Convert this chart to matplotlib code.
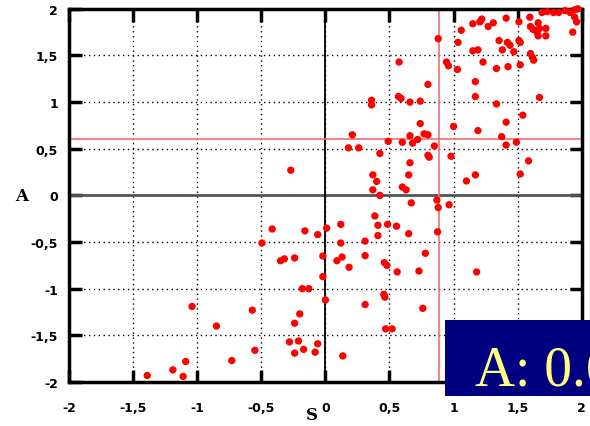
import numpy as np
import matplotlib
matplotlib.use("Agg")
import matplotlib.pyplot as plt
from matplotlib.patches import Rectangle

# scatter points (S, A)
s_left = [-0.27, -0.415, -0.16, -0.06, 0.01, -0.495, -0.35, -0.32, -0.24, -0.02,
          -0.02, -0.18, -0.13, 0.0, -1.04, -0.57, -0.2, -0.24, -0.85, -0.28,
          -0.21, -0.06, -0.55, -0.17, -0.24, -0.08, -0.73, -1.09, -1.19, -1.39, -1.11]
a_left = [0.27, -0.36, -0.38, -0.42, -0.35, -0.51, -0.70, -0.68, -0.67, -0.65,
          -0.87, -1.0, -1.0, -1.12, -1.19, -1.23, -1.27, -1.37, -1.40, -1.57,
          -1.56, -1.59, -1.66, -1.65, -1.69, -1.68, -1.77, -1.78, -1.87, -1.93, -1.94]

s_mid = [0.88, 0.945, 0.96, 0.575, 0.80, 0.36, 0.36, 0.57, 0.59, 0.66, 0.74, 0.74,
         0.21, 0.18, 0.26, 0.49, 0.60, 0.66, 0.68, 0.72, 0.77, 0.80, 0.85, 0.425,
         0.80, 0.81, 0.66, 0.65, 0.37, 0.40, 0.37, 0.60, 0.63, 0.425, 0.87, 0.88,
         0.965, 0.67, 0.386, 0.12, 0.41, 0.485, 0.555, 0.41, 0.65, 0.875, 0.12,
         0.31, 0.78, 0.13, 0.31, 0.09, 0.185, 0.46, 0.48, 0.56, 0.73, 0.31, 0.456,
         0.464, 0.76, 0.47, 0.52, 0.136]
a_mid = [1.68, 1.43, 1.39, 1.43, 1.19, 1.02, 0.97, 1.06, 1.04, 1.0, 1.01, 0.77,
         0.65, 0.51, 0.51, 0.58, 0.57, 0.64, 0.56, 0.60, 0.66, 0.65, 0.53, 0.45,
         0.43, 0.41, 0.35, 0.22, 0.22, 0.15, 0.06, 0.09, 0.06, 0.0, -0.05, -0.13,
         -0.10, -0.08, -0.22, -0.31, -0.32, -0.31, -0.33, -0.43, -0.41, -0.39, -0.51,
         -0.49, -0.62, -0.66, -0.645, -0.70, -0.77, -0.72, -0.75, -0.82, -0.81, -1.17, -1.06,
         -1.09, -1.21, -1.43, -1.43, -1.72]

s_right = [1.06, 1.15, 1.205, 1.22, 1.27, 1.31, 1.41, 1.51, 1.035, 1.15, 1.19, 1.355,
           1.38, 1.42, 1.44, 1.47, 1.51, 1.52, 1.23, 1.03, 1.335, 1.425, 1.52, 1.595,
           1.60, 1.62, 1.66, 1.67, 1.65, 1.66, 1.72, 1.72, 1.69, 1.73, 1.78, 1.82,
           1.87, 1.91, 1.945, 1.97, 1.945, 1.96, 1.93, 1.60, 1.615, 1.625, 1.67, 1.17,
           1.17, 1.335, 1.54, 1.41, 1.19, 1.375, 1.41, 1.49, 1.00, 1.585, 0.98, 1.17,
           1.10, 1.52, 1.18]
a_right = [1.77, 1.84, 1.86, 1.89, 1.81, 1.85, 1.90, 1.86, 1.64, 1.55, 1.56, 1.66,
           1.56, 1.64, 1.61, 1.54, 1.66, 1.64, 1.43, 1.35, 1.36, 1.38, 1.40, 1.91,
           1.81, 1.78, 1.85, 1.79, 1.75, 1.71, 1.79, 1.71, 1.96, 1.97, 1.96, 1.96,
           1.98, 1.96, 1.99, 2.0, 1.91, 1.86, 1.75, 1.52, 1.48, 1.45, 1.05, 1.22,
           1.06, 0.98, 0.86, 0.785, 0.695, 0.63, 0.54, 0.57, 0.74, 0.37, 0.42, 0.22,
           0.155, 0.23, -0.82]

s_vals = np.array(s_left + s_mid + s_right)
a_vals = np.array(a_left + a_mid + a_right)

s_thresh = 0.89
a_thresh = 0.61
ticks = [-2, -1.5, -1, -0.5, 0, 0.5, 1, 1.5, 2]
tick_labels = ["-2", "-1,5", "-1", "-0,5", "0", "0,5", "1", "1,5", "2"]

fig = plt.figure(figsize=(5.9, 4.27), dpi=100)
ax = fig.add_axes([0.117, 0.103, 0.869, 0.874])

ax.set_xlim(-2, 2)
ax.set_ylim(-2, 2)
ax.set_xticks(ticks)
ax.set_yticks(ticks)
ax.set_xticklabels(tick_labels, fontweight="bold", fontsize=9)
ax.set_yticklabels(tick_labels, fontweight="bold", fontsize=9)
ax.tick_params(direction="in", length=9, width=2.5, top=True, right=True)
ax.tick_params(axis="x", pad=14)
ax.tick_params(axis="y", pad=8)

ax.grid(True, color="black", linestyle=(0, (1, 2.5)), linewidth=1)
for sp in ax.spines.values():
    sp.set_linewidth(2.5)

ax.axhline(0, color="#555555", linewidth=2, zorder=2)
ax.axvline(0, color="black", linewidth=1.3, zorder=2)
ax.axhline(a_thresh, color="#f07070", linewidth=1.2, zorder=2)
ax.axvline(s_thresh, color="#f07070", linewidth=1.2, zorder=2)

ax.scatter(s_vals, a_vals, s=28, color="#ff0000", edgecolors="none", zorder=3, clip_on=False)

ax.set_xlabel("S", family="DejaVu Serif", fontweight="bold", fontsize=12, va="center")
ax.set_ylabel("A", family="DejaVu Serif", fontweight="bold", fontsize=12, rotation=0, va="center")
ax.xaxis.set_label_coords(0.474, -0.086)
ax.yaxis.set_label_coords(-0.092, 0.5)

# value box
fig.patches.append(Rectangle((0.754, 0.07), 0.3, 0.178, transform=fig.transFigure,
                             facecolor="#000080", edgecolor="none", zorder=5))
fig.text(0.805, 0.098, "A: 0.61", family="Liberation Serif", fontsize=40,
         color="#ffff80", zorder=6)

fig.savefig("out.png", dpi=100)
